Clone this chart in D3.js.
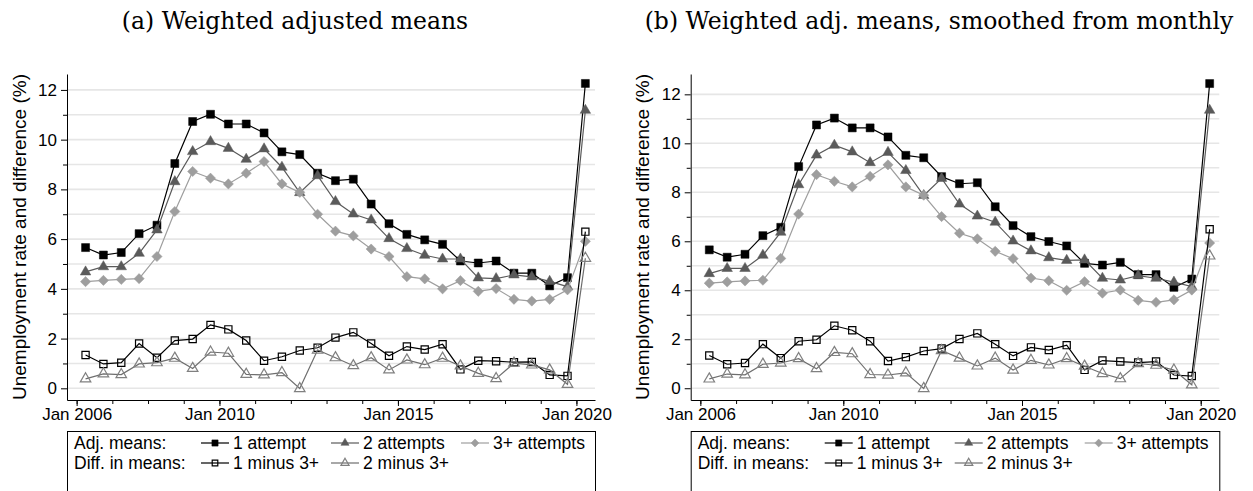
<!DOCTYPE html>
<html>
<head>
<meta charset="utf-8">
<script src="https://cdn.jsdelivr.net/npm/d3@7"></script>
<style>
  body { margin: 0; background: #fff; }
  text { font-family: "Liberation Sans", Arial, sans-serif; fill: #000; }
  .title { font-family: "DejaVu Serif", serif; font-size: 23.5px; }
</style>
</head>
<body>
<div id="chart"></div>
<script>
// half-year periods (plotted mid-period)
var halfYears = ["2006H1","2006H2","2007H1","2007H2","2008H1","2008H2","2009H1","2009H2",
  "2010H1","2010H2","2011H1","2011H2","2012H1","2012H2","2013H1","2013H2","2014H1","2014H2",
  "2015H1","2015H2","2016H1","2016H2","2017H1","2017H2","2018H1","2018H2","2019H1","2019H2","2020H1"];

// (a) weighted adjusted means
var aOne   = [5.66,5.36,5.46,6.22,6.56,9.04,10.73,11.02,10.63,10.63,10.27,9.51,9.40,8.65,8.35,8.41,7.41,6.62,6.19,5.97,5.79,5.12,5.04,5.12,4.63,4.63,4.12,4.45,12.26];
var aTwo   = [4.68,4.89,4.89,5.43,6.37,8.31,9.52,9.92,9.65,9.21,9.63,8.89,7.87,8.55,7.51,7.01,6.77,6.02,5.62,5.35,5.20,5.20,4.44,4.41,4.56,4.48,4.30,4.09,11.18];
var aThree = [4.29,4.34,4.38,4.41,5.30,7.11,8.72,8.45,8.22,8.65,9.12,8.22,7.88,7.00,6.32,6.13,5.60,5.30,4.49,4.40,4.00,4.33,3.90,4.01,3.58,3.51,3.58,3.96,5.91];
var aDiff1 = [1.34,0.98,1.03,1.80,1.23,1.92,1.98,2.55,2.37,1.92,1.11,1.27,1.52,1.63,2.04,2.25,1.80,1.31,1.68,1.56,1.77,0.76,1.11,1.09,1.05,1.06,0.54,0.50,6.30];
var aDiff2 = [0.38,0.58,0.55,0.98,1.03,1.21,0.80,1.46,1.41,0.56,0.54,0.63,-0.01,1.54,1.23,0.91,1.23,0.74,1.14,0.95,1.21,0.90,0.60,0.39,1.01,0.94,0.74,0.16,5.23];

// (b) weighted adj. means, smoothed from monthly
var bOne   = [5.65,5.35,5.47,6.23,6.57,9.05,10.75,11.03,10.63,10.63,10.26,9.51,9.41,8.64,8.35,8.39,7.41,6.64,6.19,5.99,5.81,5.10,5.03,5.14,4.64,4.64,4.12,4.46,12.44];
var bTwo   = [4.68,4.89,4.89,5.43,6.37,8.31,9.52,9.92,9.65,9.21,9.63,8.89,7.87,8.57,7.52,7.03,6.78,6.01,5.61,5.33,5.22,5.24,4.49,4.42,4.60,4.49,4.33,4.15,11.35];
var bThree = [4.29,4.34,4.38,4.41,5.30,7.11,8.72,8.45,8.22,8.65,9.12,8.22,7.88,7.01,6.33,6.10,5.59,5.29,4.50,4.39,4.00,4.35,3.88,4.01,3.59,3.51,3.61,4.01,5.93];
var bDiff1 = [1.34,0.98,1.03,1.80,1.23,1.92,1.98,2.55,2.37,1.92,1.11,1.27,1.52,1.62,2.01,2.24,1.80,1.32,1.67,1.56,1.76,0.75,1.13,1.09,1.05,1.09,0.54,0.50,6.49];
var bDiff2 = [0.38,0.58,0.55,0.98,1.03,1.21,0.80,1.46,1.41,0.56,0.54,0.63,-0.01,1.54,1.23,0.91,1.23,0.74,1.14,0.95,1.21,0.90,0.60,0.39,1.01,0.94,0.74,0.14,5.40];

var yMajor = [0, 2, 4, 6, 8, 10, 12];
var yMinor = [1, 3, 5, 7, 9, 11];
var xMajorYears = [2006, 2010, 2015, 2020];
var xMajorLabels = ["Jan 2006", "Jan 2010", "Jan 2015", "Jan 2020"];
var xMinorYears = [2006, 2007, 2008, 2009, 2010, 2011, 2012, 2013, 2014, 2015, 2016, 2017, 2018, 2019, 2020];

var seriesNames = ["1 attempt", "2 attempts", "3+ attempts", "1 minus 3+", "2 minus 3+"];
var legendGroups = ["Adj. means:", "Diff. in means:"];
var yTitle = "Unemployment rate and difference (%)";

// styles for each series, in drawing order
var styles = [
  { line: "#000",    marker: "square",   fill: "#000",    stroke: "#000",    size: 64 },
  { line: "#5a5a5a", marker: "triangle", fill: "#5a5a5a", stroke: "#5a5a5a", size: 48 },
  { line: "#9e9e9e", marker: "diamond",  fill: "#9e9e9e", stroke: "#9e9e9e", size: 52 },
  { line: "#000",    marker: "square",   fill: "none",    stroke: "#000",    size: 52 },
  { line: "#6e6e6e", marker: "triangle", fill: "none",    stroke: "#808080", size: 48 }
];

// legend columns: key start offsets from the legend box's left edge
var legendCols = [134, 264, 394];

var W = 1253, H = 491;
var plotTop = 74, plotBottom = 400;

var svg = d3.select("#chart").append("svg")
  .attr("width", W)
  .attr("height", H);

function decimalYear(p) {
  return +p.slice(0, 4) + (p.slice(4) === "H1" ? 0.25 : 0.75);
}

function symbolPath(type, size) {
  if (type === "triangle") return d3.symbol(d3.symbolTriangle, size)();
  return d3.symbol(d3.symbolSquare, size)();   // square, or diamond = rotated square
}

function drawMarker(g, st, cx, cy, scale) {
  g.append("path")
    .attr("d", symbolPath(st.marker, st.size * (scale || 1)))
    .attr("transform", "translate(" + cx + "," + cy + ")" + (st.marker === "diamond" ? " rotate(45)" : ""))
    .attr("fill", st.fill)
    .attr("stroke", st.stroke)
    .attr("stroke-width", st.fill === "none" ? 1.2 : 0.5);
}

function drawPanel(cfg) {
  var g = svg.append("g");

  var x = d3.scaleLinear().domain([2005.73, 2020.52]).range([cfg.left, cfg.right]);
  var y = d3.scaleLinear().domain(cfg.yDomain).range([plotBottom, plotTop]);

  // title
  g.append("text")
    .attr("class", "title")
    .attr("x", cfg.titleX)
    .attr("y", 29)
    .attr("text-anchor", "middle")
    .text(cfg.title);

  // grid lines
  g.selectAll(".grid")
    .data(yMajor.concat(yMinor))
    .enter().append("line")
    .attr("x1", cfg.left + 1)
    .attr("x2", cfg.right)
    .attr("y1", d => y(d))
    .attr("y2", d => y(d))
    .attr("stroke", "#e6e6e6")
    .attr("stroke-width", 1.6);

  // y axis
  var yAxis = g.append("g")
    .attr("transform", "translate(" + cfg.left + ",0)")
    .call(d3.axisLeft(y).tickValues(yMajor).tickSize(6).tickSizeOuter(0).tickPadding(4));
  yAxis.selectAll("text").style("font-size", "17px").attr("fill", "#000");

  g.append("g")
    .attr("transform", "translate(" + cfg.left + ",0)")
    .call(d3.axisLeft(y).tickValues(yMinor).tickSize(4).tickSizeOuter(0).tickFormat(""))
    .select(".domain").remove();

  // x axis
  var xAxis = g.append("g")
    .attr("transform", "translate(0," + plotBottom + ")")
    .call(d3.axisBottom(x).tickValues(xMajorYears).tickSize(6).tickSizeOuter(0).tickPadding(2)
      .tickFormat((d, i) => xMajorLabels[i]));
  xAxis.selectAll("text").style("font-size", "17px").attr("fill", "#000");

  g.append("g")
    .attr("transform", "translate(0," + plotBottom + ")")
    .call(d3.axisBottom(x).tickValues(xMinorYears).tickSize(4).tickSizeOuter(0).tickFormat(""))
    .select(".domain").remove();

  g.selectAll(".domain, .tick line").attr("stroke", "#000");

  // y axis title
  g.append("text")
    .attr("transform", "translate(" + (cfg.left - 48) + "," + ((plotTop + plotBottom) / 2) + ") rotate(-90)")
    .attr("text-anchor", "middle")
    .attr("dominant-baseline", "central")
    .style("font-size", "19px")
    .text(yTitle);

  // series
  var line = d3.line()
    .x((d, i) => x(decimalYear(halfYears[i])))
    .y(d => y(d));

  cfg.series.forEach(function (values, k) {
    var st = styles[k];
    var s = g.append("g");
    s.append("path")
      .datum(values)
      .attr("d", line)
      .attr("fill", "none")
      .attr("stroke", st.line)
      .attr("stroke-width", 1.2);
    values.forEach(function (v, i) {
      drawMarker(s, st, x(decimalYear(halfYears[i])), y(v));
    });
  });

  // legend
  var L = cfg.left, top = 431;
  var lg = g.append("g");
  lg.append("rect")
    .attr("x", L + 0.5)
    .attr("y", top + 0.5)
    .attr("width", cfg.right - cfg.left)
    .attr("height", 90)
    .attr("fill", "#fff")
    .attr("stroke", "#000");

  var rowY = [449, 469];
  var keyLen = 28;
  var rows = [[0, 1, 2], [3, 4]];

  rows.forEach(function (row, r) {
    lg.append("text")
      .attr("x", L + 7)
      .attr("y", rowY[r])
      .style("font-size", "17.5px")
      .text(legendGroups[r]);
    row.forEach(function (k, c) {
      var st = styles[k];
      var kx = L + legendCols[c], ky = rowY[r] - 6;
      lg.append("line")
        .attr("x1", kx).attr("x2", kx + keyLen)
        .attr("y1", ky).attr("y2", ky)
        .attr("stroke", st.line)
        .attr("stroke-width", 1.2);
      drawMarker(lg, st, kx + keyLen / 2, ky, 0.6);
      lg.append("text")
        .attr("x", kx + keyLen + 4)
        .attr("y", rowY[r])
        .style("font-size", "17.5px")
        .text(seriesNames[k]);
    });
  });
}

drawPanel({
  left: 67, right: 595, yDomain: [-0.47, 12.64], titleX: 295,
  title: "(a) Weighted adjusted means",
  series: [aOne, aTwo, aThree, aDiff1, aDiff2]
});

drawPanel({
  left: 690.7, right: 1219.3, yDomain: [-0.48, 12.83], titleX: 939,
  title: "(b) Weighted adj. means, smoothed from monthly",
  series: [bOne, bTwo, bThree, bDiff1, bDiff2]
});
</script>
</body>
</html>
